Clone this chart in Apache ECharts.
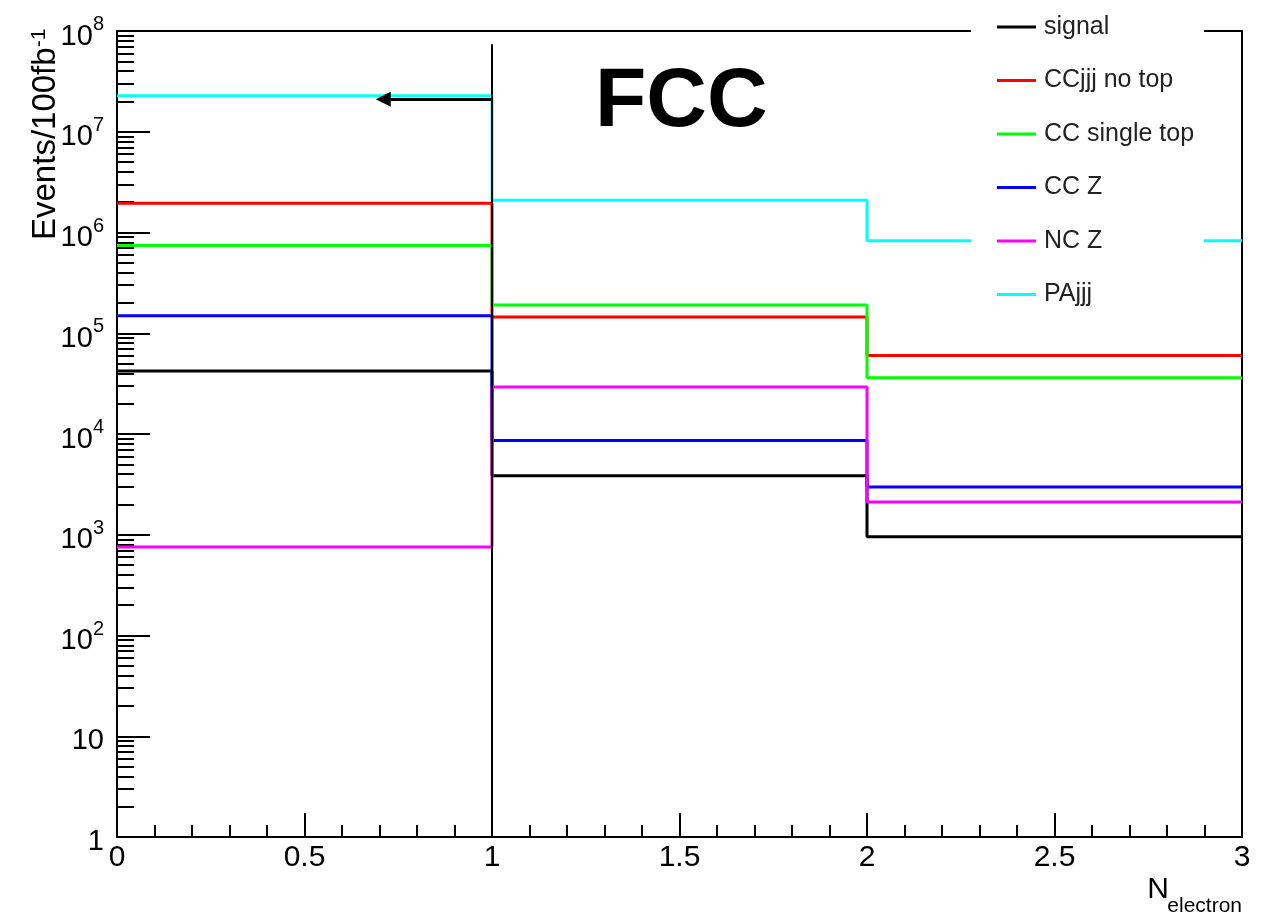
<!DOCTYPE html>
<html><head><meta charset="utf-8">
<script src="https://cdn.jsdelivr.net/npm/echarts@6/dist/echarts.min.js"></script>
<style>html,body{margin:0;padding:0;background:#fff}#c{width:1275px;height:915px}</style>
</head><body><div id="c"></div>
<script>
// ---- data ----
const binEdges = [0, 1, 2, 3];
const seriesNames = ['signal', 'CCjjj no top', 'CC single top', 'CC Z', 'NC Z', 'PAjjj'];
const signal      = [4.21e4, 3.85e3, 955];
const ccjjjNoTop  = [1.95e6, 1.45e5, 6.01e4];
const ccSingleTop = [7.41e5, 1.91e5, 3.61e4];
const ccZ         = [1.49e5, 8.62e3, 2.97e3];
const ncZ         = [755, 2.92e4, 2.11e3];
const paJjj       = [2.28e7, 2.09e6, 8.26e5];
const xTickLabels = [0, 0.5, 1, 1.5, 2, 2.5, 3];
const yMajorTicks = [1, 10, 1e2, 1e3, 1e4, 1e5, 1e6, 1e7, 1e8];
const cutX = 1;          // vertical cut line position
const cutTop = 7.4e7;    // top of cut line
const arrowY = 2.1e7;    // arrow height
const arrowEndX = 0.71;  // arrow head position

// ---- styling ----
const colors = ['#000000', '#ff0000', '#00ff00', '#0000ff', '#ff00ff', '#00ffff'];
const allValues = [signal, ccjjjNoTop, ccSingleTop, ccZ, ncZ, paJjj];
const FONT = 'Liberation Sans';

const yMinorTicks = [];
for (let d = 0; d < 8; d++) for (let k = 2; k <= 9; k++) yMinorTicks.push(k * Math.pow(10, d));

function histData(vals) {
  return binEdges.map((e, i) => [e, vals[Math.min(i, vals.length - 1)]]);
}

const series = allValues.map((vals, i) => ({
  name: seriesNames[i], type: 'line', step: 'end', symbol: 'none',
  data: histData(vals), color: colors[i],
  lineStyle: { color: colors[i], width: 3 }, animation: false
}));
series.push({
  name: 'cut', type: 'line', symbol: 'none', animation: false,
  data: [[cutX, cutTop], [cutX, yMajorTicks[0]]],
  lineStyle: { color: '#000', width: 2 }, z: 5,
  markLine: {
    silent: true, animation: false, symbol: ['none', 'triangle'], symbolSize: 15,
    label: { show: false },
    lineStyle: { color: '#000', width: 3, type: 'solid' },
    data: [[{ coord: [cutX, arrowY] }, { coord: [arrowEndX, arrowY] }]]
  }
});

const chart = echarts.init(document.getElementById('c'), null, { renderer: 'canvas' });
chart.setOption({
  animation: false,
  backgroundColor: '#fff',
  grid: { left: 117, right: 33, top: 31, bottom: 78, show: true, borderColor: '#000', borderWidth: 2, backgroundColor: 'transparent' },
  xAxis: {
    type: 'value', min: xTickLabels[0], max: xTickLabels[xTickLabels.length - 1], interval: 0.5,
    axisLine: { onZero: false, lineStyle: { color: '#000', width: 2 } },
    axisTick: { inside: true, length: 24, lineStyle: { color: '#000', width: 2 } },
    minorTick: { show: true, splitNumber: 5, length: 12, lineStyle: { color: '#000', width: 2 } },
    axisLabel: { margin: 6, fontSize: 30, color: '#000', fontFamily: FONT },
    splitLine: { show: false }
  },
  yAxis: [{
    type: 'log', logBase: 10, min: 1, max: 1e8, position: 'left',
    axisLine: { lineStyle: { color: '#000', width: 2 } },
    axisTick: { inside: true, length: 33, customValues: yMajorTicks, lineStyle: { color: '#000', width: 2 } },
    axisLabel: {
      customValues: yMajorTicks, margin: 13, color: '#000', fontFamily: FONT, fontSize: 29,
      formatter: function (v) {
        const e = Math.round(Math.log10(v));
        if (e === 0) return '{c|1}';
        if (e === 1) return '{c|10}';
        return '{b|10}{s|' + e + '}';
      },
      rich: {
        b: { fontSize: 29, fontFamily: FONT, color: '#000', verticalAlign: 'bottom' },
        c: { fontSize: 29, fontFamily: FONT, color: '#000', verticalAlign: 'bottom', padding: [10, 0, 0, 0] },
        s: { fontSize: 20, fontFamily: FONT, color: '#000', verticalAlign: 'top', padding: [3.5, 0, 16.5, 0] }
      }
    },
    splitLine: { show: false }
  }, {
    type: 'log', logBase: 10, min: 1, max: 1e8, position: 'left',
    axisLine: { show: false },
    axisTick: { inside: true, length: 17, customValues: yMinorTicks, lineStyle: { color: '#000', width: 2 } },
    axisLabel: { show: false },
    splitLine: { show: false }
  }],
  legend: {
    orient: 'vertical', left: 997, top: 12, padding: 0, zlevel: 2,
    itemWidth: 39, itemHeight: 3, itemGap: 23.5, icon: 'rect',
    data: seriesNames,
    textStyle: { fontSize: 25, color: '#222', fontFamily: FONT, lineHeight: 30, padding: [0, 0, 0, 3] }
  },
  graphic: [
    { type: 'rect', zlevel: 1, z: 3, shape: { x: 971, y: 0, width: 233, height: 320 }, style: { fill: '#fff' } },
    { type: 'text', x: 595, y: 103, z: 10,
      style: { text: 'FCC', fontSize: 84, fontWeight: 'bold', fontFamily: FONT, fill: '#000', align: 'left', verticalAlign: 'middle' } },
    { type: 'text', x: 1169, y: 905, z: 10,
      style: { text: 'N', fontSize: 30, fontFamily: FONT, fill: '#000', align: 'right', verticalAlign: 'bottom', lineHeight: 30 } },
    { type: 'text', x: 1242, y: 917, z: 10,
      style: { text: 'electron', fontSize: 21, fontFamily: FONT, fill: '#000', align: 'right', verticalAlign: 'bottom', lineHeight: 21 } },
    { type: 'text', x: 62, y: 240, rotation: Math.PI / 2, z: 10,
      style: { text: '{m|Events/100fb}{p|-1}', align: 'left', verticalAlign: 'bottom', fill: '#000',
        rich: {
          m: { fontSize: 33, fontFamily: FONT, fill: '#000', verticalAlign: 'bottom', lineHeight: 33 },
          p: { fontSize: 21, fontFamily: FONT, fill: '#000', verticalAlign: 'top', lineHeight: 21 }
        } } }
  ],
  series: series
});
</script>
</body></html>
